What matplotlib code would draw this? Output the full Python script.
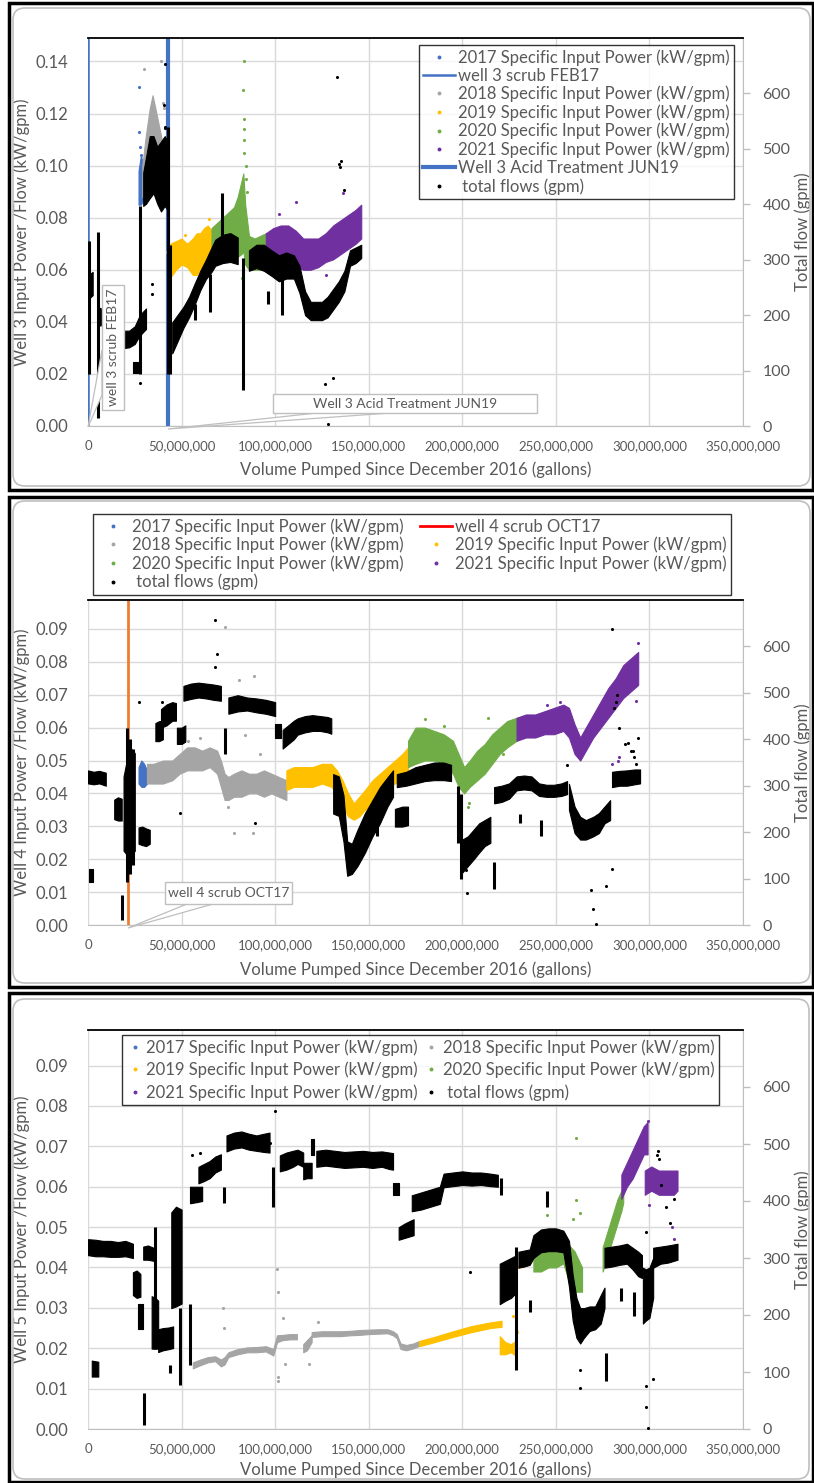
import numpy as np
import matplotlib
matplotlib.use('Agg')
import matplotlib.pyplot as plt
from matplotlib.lines import Line2D
from matplotlib.patches import Rectangle, FancyBboxPatch, Polygon
from matplotlib.ticker import FuncFormatter

plt.rcParams['font.family'] = ['Lato', 'DejaVu Sans']

W, H = 814, 1483
TXT = '#595959'
C17, C18, C19, C20, C21 = '#4472C4', '#A5A5A5', '#FFC000', '#70AD47', '#7030A0'

# ---------- data (x in million gallons; power in kW/gpm; flows in gpm) ----------
# bands = (x, low, high) of the dense point clouds, spikes = (x, low, high), pts = single points

# Well 3
w3_flow_bands = [
    ([0, 1.2, 2.5], [240, 232, 236], [282, 275, 278]),
    ([5, 7, 9, 11], [180, 182, 178, 170], [215, 212, 210, 200]),
    ([14, 18, 22, 25, 27, 29, 31], [145, 140, 142, 148, 160, 168, 175], [175, 172, 172, 180, 195, 205, 212]),
    ([24, 26.5], [95, 95], [115, 115]),
    ([29.5, 31, 33, 35, 37, 39, 41, 43], [397, 401, 411, 420, 401, 387, 397, 387], [457, 485, 523, 523, 504, 513, 523, 509]),
    ([45, 48, 51, 54, 57, 60, 63, 66, 68, 72, 76, 80], [131, 154, 177, 196, 219, 245, 265, 278, 289, 294, 296, 292],
     [187, 201, 215, 233, 257, 280, 300, 322, 336, 345, 348, 340]),
    ([86, 90, 94, 98, 102, 106, 110, 113, 116, 119, 122, 125, 128, 131, 134, 137, 140, 143, 146],
     [280, 285, 280, 271, 261, 266, 266, 240, 200, 191, 191, 191, 196, 210, 224, 243, 289, 294, 303],
     [317, 327, 327, 317, 308, 313, 308, 289, 243, 224, 224, 224, 233, 247, 261, 280, 317, 322, 327]),
]
w3_flow_spike_x = [0.5, 5.5, 28, 42.5, 43.8, 57, 65, 71.5, 83, 96, 103.5]
w3_flow_spike_lo = [93, 14, 93, 93, 93, 192, 205, 317, 65, 220, 200]
w3_flow_spike_hi = [334, 350, 397, 540, 327, 220, 275, 420, 303, 243, 280]
w3_flow_pts_x = [41, 40.7, 41.2, 41.4, 133, 134.2, 135, 134.6, 137, 126.6, 131, 128, 34, 34, 27.8]
w3_flow_pts_y = [653, 580, 537, 540, 630, 472, 478, 467, 425, 75, 86, 4, 257, 238, 77]

w3_2017_bands = [([27, 28.3, 29.5], [0.085, 0.085, 0.087], [0.098, 0.104, 0.100])]
w3_2017_pts_x = [27.4, 27.4, 28, 28.5]
w3_2017_pts_y = [0.130, 0.113, 0.107, 0.104]
w3_2018_bands = [([29, 31, 33, 34.5, 36, 38, 40, 42], [0.088, 0.09, 0.09, 0.09, 0.09, 0.089, 0.088, 0.09],
                  [0.100, 0.112, 0.122, 0.127, 0.122, 0.115, 0.108, 0.100])]
w3_2018_pts_x = [30, 39, 40, 40.5, 42.3, 42.6, 42.6]
w3_2018_pts_y = [0.137, 0.140, 0.124, 0.122, 0.067, 0.055, 0.053]
w3_2019_bands = [([44, 47, 50, 53, 56, 58, 60, 62, 64, 66],
                  [0.057, 0.060, 0.062, 0.061, 0.058, 0.058, 0.060, 0.063, 0.066, 0.066],
                  [0.070, 0.071, 0.072, 0.070, 0.072, 0.074, 0.074, 0.076, 0.077, 0.075])]
w3_2019_pts_x = [64.7, 52]
w3_2019_pts_y = [0.0796, 0.0735]
w3_2020_bands = [([66, 69, 72, 75, 78, 80, 82, 83, 84, 86, 89, 92, 95],
                  [0.064, 0.066, 0.067, 0.068, 0.066, 0.065, 0.066, 0.067, 0.062, 0.060, 0.060, 0.060, 0.062],
                  [0.076, 0.078, 0.080, 0.082, 0.084, 0.088, 0.094, 0.097, 0.085, 0.073, 0.072, 0.073, 0.074])]
w3_2020_pts_x = [83.5, 83, 83.2, 83.2, 83.3, 83.5, 84.2, 84.5, 85, 82.5, 79]
w3_2020_pts_y = [0.140, 0.129, 0.118, 0.114, 0.110, 0.105, 0.100, 0.095, 0.090, 0.057, 0.0796]
w3_2021_bands = [([95, 99, 103, 107, 111, 115, 119, 123, 127, 131, 135, 139, 143, 146],
                  [0.063, 0.062, 0.062, 0.061, 0.061, 0.060, 0.060, 0.061, 0.063, 0.064, 0.066, 0.068, 0.070, 0.072],
                  [0.074, 0.076, 0.077, 0.077, 0.075, 0.072, 0.072, 0.072, 0.074, 0.077, 0.079, 0.081, 0.083, 0.085])]
w3_2021_pts_x = [111, 136, 127, 126, 102, 140, 145]
w3_2021_pts_y = [0.086, 0.0895, 0.058, 0.042, 0.0815, 0.080, 0.083]
w3_scrub_x = 0.0
w3_acid_x = 42.8

# Well 4
w4_flow_bands = [
    ([0, 3, 6, 9.5], [305, 303, 305, 300], [333, 330, 332, 328]),
    ([0.5, 2.5], [92, 92], [120, 120]),
    ([14, 16, 18], [228, 225, 225], [270, 275, 272]),
    ([19, 21, 23, 25], [160, 150, 150, 160], [320, 360, 380, 370]),
    ([27, 29, 31, 33], [175, 172, 170, 175], [210, 212, 208, 205]),
    ([36, 38, 40], [396, 396, 400], [435, 439, 440]),
    ([39, 42, 45, 47], [425, 430, 440, 440], [465, 475, 480, 478]),
    ([47.5, 50, 52], [390, 390, 395], [425, 425, 430]),
    ([51, 55, 59, 63, 67, 71], [483, 487, 490, 488, 485, 483], [515, 520, 522, 520, 518, 515]),
    ([75, 80, 85, 90, 95, 100], [455, 460, 462, 458, 455, 450], [490, 495, 490, 488, 485, 480]),
    ([100, 103], [403, 403], [432, 432]),
    ([104, 107, 110, 112, 116, 120, 124, 128, 130], [380, 390, 400, 410, 415, 418, 418, 415, 412],
     [420, 430, 440, 445, 450, 452, 450, 448, 445]),
    ([131, 134, 136.5, 138.5, 141, 144, 148, 152, 156, 160, 163],
     [240, 235, 180, 106, 110, 127, 156, 191, 219, 255, 276],
     [325, 320, 280, 180, 175, 205, 241, 269, 297, 318, 333]),
    ([164, 168, 171], [212, 212, 215], [250, 255, 255]),
    ([165, 170, 175, 180, 185, 190, 194], [297, 300, 305, 310, 312, 312, 310], [325, 330, 340, 345, 350, 350, 345]),
    ([200, 203, 206, 209, 212, 215], [113, 127, 141, 156, 170, 177], [184, 191, 205, 219, 226, 233]),
    ([217, 221, 225, 229, 233, 237, 241, 245, 249, 253, 256],
     [262, 265, 272, 290, 292, 290, 278, 276, 276, 278, 282],
     [297, 300, 305, 320, 322, 320, 305, 302, 302, 305, 310]),
    ([257, 260, 263, 266, 270, 273, 276, 279], [248, 198, 184, 184, 191, 198, 219, 226],
     [304, 255, 233, 226, 233, 241, 255, 269]),
    ([280, 284, 288, 292, 295], [297, 300, 300, 303, 305], [330, 332, 333, 335, 335]),
]
w4_flow_spike_x = [18, 21, 22.5, 24, 73, 154.5, 197.5, 199.5, 217, 231, 242]
w4_flow_spike_lo = [11, 92, 110, 130, 368, 191, 177, 99, 78, 220, 191]
w4_flow_spike_hi = [64, 425, 400, 380, 424, 233, 300, 283, 135, 240, 226]
w4_flow_pts_x = [67.8, 69, 68, 27, 39.7, 280, 282, 282.5, 281, 284, 287, 294, 288.5, 290, 291, 292, 293,
                 280, 270, 271.5, 269, 277, 202, 202.3, 256, 49, 89]
w4_flow_pts_y = [658, 583, 556, 481, 481, 637, 481, 495, 467, 425, 389, 403, 391, 375, 375, 361, 347,
                 120, 35, 2, 75, 85, 118, 69, 344, 241, 220]

w4_2017_bands = [([27, 28.5, 30, 31.5], [0.043, 0.042, 0.042, 0.043], [0.048, 0.050, 0.049, 0.047])]
w4_2018_bands = [([31.5, 35, 40, 45, 49, 53, 57, 61, 65, 69, 71, 73, 75, 78, 82, 86, 90, 94, 98, 102, 106],
                  [0.043, 0.043, 0.043, 0.044, 0.046, 0.047, 0.047, 0.047, 0.048, 0.046, 0.042, 0.038, 0.038,
                   0.039, 0.039, 0.040, 0.040, 0.039, 0.040, 0.039, 0.038],
                  [0.049, 0.049, 0.050, 0.050, 0.052, 0.054, 0.054, 0.053, 0.054, 0.053, 0.050, 0.046, 0.045,
                   0.046, 0.047, 0.046, 0.046, 0.047, 0.046, 0.045, 0.044])]
w4_2018_pts_x = [73, 80.7, 88.7, 84, 53.5, 78, 88, 75, 60, 92]
w4_2018_pts_y = [0.0906, 0.0745, 0.0757, 0.0577, 0.056, 0.028, 0.028, 0.036, 0.057, 0.052]
w4_2019_bands = [([106, 110, 115, 120, 125, 130, 133, 136, 139, 142, 145, 148, 152, 156, 160, 164, 168, 171],
                  [0.041, 0.042, 0.042, 0.042, 0.043, 0.042, 0.040, 0.036, 0.033, 0.032, 0.033, 0.035, 0.037,
                   0.040, 0.042, 0.043, 0.045, 0.047],
                  [0.047, 0.048, 0.048, 0.048, 0.049, 0.049, 0.047, 0.044, 0.040, 0.037, 0.039, 0.041, 0.044,
                   0.046, 0.048, 0.050, 0.052, 0.054])]
w4_2020_bands = [([171, 175, 180, 185, 190, 195, 198, 201, 204, 208, 212, 216, 220, 224, 229],
                  [0.048, 0.049, 0.050, 0.050, 0.049, 0.046, 0.042, 0.040, 0.042, 0.044, 0.046, 0.049, 0.052, 0.054, 0.056],
                  [0.056, 0.060, 0.060, 0.059, 0.058, 0.056, 0.052, 0.048, 0.050, 0.053, 0.055, 0.058, 0.060, 0.062, 0.063])]
w4_2020_pts_x = [203.6, 203, 180, 190, 214, 222]
w4_2020_pts_y = [0.037, 0.036, 0.0625, 0.0605, 0.063, 0.052]
w4_2021_bands = [([229, 234, 239, 244, 249, 254, 257, 260, 263, 266, 270, 274, 278, 282, 286, 290, 294],
                  [0.056, 0.057, 0.057, 0.058, 0.058, 0.059, 0.057, 0.052, 0.050, 0.053, 0.057, 0.060, 0.063,
                   0.066, 0.069, 0.071, 0.073],
                  [0.063, 0.064, 0.064, 0.065, 0.066, 0.067, 0.066, 0.061, 0.057, 0.060, 0.064, 0.068, 0.072,
                   0.075, 0.079, 0.081, 0.083])]
w4_2021_pts_x = [294, 252, 280, 283, 283.5, 287, 293, 245]
w4_2021_pts_y = [0.0857, 0.0677, 0.049, 0.050, 0.051, 0.0714, 0.068, 0.067]
w4_scrub_x = 21.5

# Well 5
w5_flow_bands = [
    ([0, 4, 8, 12, 16, 20, 24], [305, 303, 303, 302, 302, 303, 300], [333, 332, 330, 330, 328, 330, 325]),
    ([2, 5.5], [92, 92], [120, 118]),
    ([24, 26, 28], [235, 230, 232], [275, 278, 272]),
    ([26.5, 29.5], [176, 176], [219, 219]),
    ([29.5, 32, 35], [297, 297, 295], [320, 322, 318]),
    ([34, 36, 37.5], [141, 141, 141], [233, 230, 225]),
    ([37.5, 40, 43, 45.5], [135, 138, 140, 142], [175, 177, 178, 180]),
    ([44.5, 47, 50], [212, 215, 220], [380, 390, 385]),
    ([54.5, 58, 61], [396, 398, 400], [425, 425, 425]),
    ([59, 62, 65, 68, 71], [431, 435, 440, 450, 455], [460, 465, 470, 478, 482]),
    ([74, 78, 82, 86, 90, 94, 97], [487, 492, 494, 490, 488, 486, 485], [515, 520, 522, 518, 515, 518, 520]),
    ([102.5, 106, 109.5, 112, 115], [452, 455, 460, 465, 460], [480, 485, 488, 490, 485]),
    ([115, 117, 119.5], [438, 440, 440], [467, 467, 467]),
    ([119, 121], [481, 481], [509, 509]),
    ([122, 127, 132, 137, 142, 147, 152, 157, 161, 163], [460, 462, 460, 458, 459, 460, 458, 460, 456, 455],
     [488, 490, 488, 486, 487, 488, 486, 487, 485, 484]),
    ([163, 166], [410, 410], [431, 431]),
    ([166, 169, 172, 174], [332, 335, 338, 340], [354, 360, 365, 368]),
    ([173, 178, 183, 188, 190, 195, 200, 205, 210, 215, 219], [382, 385, 390, 395, 424, 426, 428, 427, 428, 426, 425],
     [410, 415, 420, 425, 448, 450, 452, 450, 450, 448, 446]),
    ([220, 223, 226, 229], [219, 225, 230, 240], [290, 295, 300, 305]),
    ([230, 233, 236, 238, 242, 246, 250, 254, 257, 259, 261, 263, 265, 268, 271, 274, 276],
     [283, 285, 288, 300, 310, 312, 312, 310, 250, 190, 160, 150, 160, 172, 175, 185, 212],
     [311, 313, 315, 340, 350, 352, 352, 348, 330, 270, 230, 212, 212, 215, 215, 235, 248]),
    ([276, 280, 284, 288, 291, 294, 296], [283, 285, 288, 290, 280, 268, 265], [318, 320, 322, 325, 318, 311, 305]),
    ([296.5, 298, 300, 302], [185, 190, 195, 230], [283, 280, 283, 300]),
    ([302, 306, 310, 315], [283, 290, 292, 297], [318, 320, 322, 325]),
]
w5_flow_spike_x = [30, 36, 49, 54.5, 44, 99, 220.5, 228.5, 236, 245, 277, 285, 292, 72.5]
w5_flow_spike_lo = [7, 141, 78, 113, 99, 389, 410, 103, 205, 389, 85, 225, 198, 396]
w5_flow_spike_hi = [64, 354, 212, 219, 113, 460, 440, 320, 226, 417, 134, 248, 240, 425]
w5_flow_pts_x = [298, 298.3, 299, 302, 263, 263, 204, 304, 304.5, 305, 306, 309, 311, 313, 298, 100, 55.5, 60, 97.5]
w5_flow_pts_y = [76, 38, 2, 88, 72, 103, 276, 481, 488, 474, 428, 389, 361, 403, 346, 558, 481, 484, 502]

w5_2018_bands = [
    ([56, 60, 64, 68, 71, 73, 75, 80, 85, 90, 95, 99, 101, 104, 108, 111.6],
     [0.0150, 0.0158, 0.0165, 0.0168, 0.0155, 0.0160, 0.0178, 0.0185, 0.0190, 0.0190, 0.0192, 0.0182,
      0.0215, 0.0220, 0.0222, 0.0222],
     [0.0165, 0.0172, 0.0178, 0.0180, 0.0172, 0.0178, 0.0190, 0.0198, 0.0202, 0.0203, 0.0205, 0.0198,
      0.0232, 0.0233, 0.0235, 0.0235]),
    ([115, 117, 119.5], [0.019, 0.0195, 0.0215], [0.021, 0.022, 0.0232]),
    ([119.5, 125, 130, 135, 140, 145, 150, 155, 160, 163, 165, 167, 170, 174, 177],
     [0.0228, 0.0230, 0.0230, 0.0230, 0.0232, 0.0233, 0.0235, 0.0236, 0.0237, 0.0232, 0.0225, 0.0198,
      0.0195, 0.0200, 0.0206],
     [0.0240, 0.0242, 0.0242, 0.0242, 0.0243, 0.0245, 0.0246, 0.0247, 0.0247, 0.0242, 0.0235, 0.0212,
      0.0208, 0.0212, 0.0218]),
]
w5_2018_pts_x = [101, 101.5, 104, 101.3, 101.3, 123, 72, 72.5, 118, 105]
w5_2018_pts_y = [0.0397, 0.034, 0.0275, 0.0129, 0.012, 0.0265, 0.030, 0.025, 0.016, 0.016]
w5_2019_bands = [([177, 185, 195, 205, 215, 221], [0.0205, 0.0215, 0.0228, 0.0240, 0.0250, 0.0253],
                  [0.0218, 0.0228, 0.0242, 0.0255, 0.0264, 0.0268]),
                 ([220, 223, 226, 229], [0.0185, 0.0185, 0.019, 0.018], [0.023, 0.0215, 0.021, 0.022])]
w5_2019_pts_x = [227, 226, 228, 230, 232, 234, 229.5]
w5_2019_pts_y = [0.028, 0.037, 0.0395, 0.040, 0.041, 0.042, 0.024]
w5_2020_bands = [([238, 242, 246, 250, 254, 256, 258, 260, 262, 264],
                  [0.039, 0.039, 0.040, 0.040, 0.041, 0.038, 0.035, 0.034, 0.034, 0.034],
                  [0.044, 0.044, 0.045, 0.045, 0.046, 0.046, 0.045, 0.044, 0.042, 0.040]),
                 ([275, 277, 279, 281, 283, 285, 286], [0.039, 0.042, 0.045, 0.048, 0.051, 0.054, 0.056],
                  [0.045, 0.048, 0.051, 0.054, 0.057, 0.059, 0.060])]
w5_2020_pts_x = [260.6, 260.6, 263, 259, 245, 245.5]
w5_2020_pts_y = [0.072, 0.0566, 0.0536, 0.052, 0.053, 0.057]
w5_2021_bands = [([285, 288, 291, 294, 297, 299], [0.057, 0.060, 0.062, 0.065, 0.068, 0.068],
                  [0.063, 0.066, 0.069, 0.072, 0.075, 0.076]),
                 ([297.5, 301, 305, 309, 313, 315], [0.058, 0.059, 0.058, 0.058, 0.058, 0.059],
                  [0.064, 0.065, 0.064, 0.064, 0.064, 0.064])]
w5_2021_pts_x = [299, 300, 312, 313, 314]
w5_2021_pts_y = [0.0763, 0.0555, 0.050, 0.047, 0.045]

LBL_SIP = 'Specific Input Power (kW/gpm)'
XLABEL = 'Volume Pumped Since December 2016 (gallons)'


def bands(ax, data, color, z=2):
    for xs, lo, hi in data:
        ax.fill_between(np.array(xs) * 1e6, lo, hi, color=color, lw=0.8, edgecolor=color, zorder=z)


def spikes(ax, xs, lo, hi, color, lw=2.2, z=2):
    ax.vlines(np.array(xs) * 1e6, lo, hi, color=color, lw=lw, zorder=z)


def pts(ax, xs, ys, color, z=3):
    ax.scatter(np.array(xs) * 1e6, ys, s=5, color=color, lw=0, zorder=z)


def dot(color, label):
    return Line2D([], [], marker='o', ls='', ms=1.8, color=color, label=label)


def make_axes(fig, top, bottom, ymax, yticks, ylabel, xlab_y):
    ax = fig.add_axes([88 / W, 1 - bottom / H, 655 / W, (bottom - top) / H])
    ax2 = ax.twinx()
    ax.set_xlim(0, 350e6)
    ax.set_ylim(0, ymax)
    ax2.set_ylim(0, 700)
    ax.set_xticks(np.arange(0, 351e6, 50e6))
    ax.xaxis.set_major_formatter(FuncFormatter(lambda v, p: f'{int(round(v)):,}'))
    ax.set_yticks(yticks)
    ax.yaxis.set_major_formatter(FuncFormatter(lambda v, p: f'{v:.2f}'))
    ax2.set_yticks(np.arange(0, 601, 100))
    ax.grid(True, color='#D9D9D9', lw=1)
    ax.set_axisbelow(True)
    for a in (ax, ax2):
        for s in a.spines.values():
            s.set_visible(False)
    ax2.spines['top'].set_visible(True)
    ax2.spines['top'].set_color('black')
    ax2.spines['top'].set_linewidth(1.3)
    ax2.spines['right'].set_visible(True)
    ax2.spines['right'].set_color('#BFBFBF')
    ax.spines['bottom'].set_visible(True)
    ax.spines['bottom'].set_color('#BFBFBF')
    ax.tick_params(axis='x', length=0, pad=10, labelsize=9.5, colors=TXT)
    ax.tick_params(axis='y', length=0, pad=14, labelsize=12, colors=TXT)
    ax2.tick_params(axis='y', length=5, width=1, color='#BFBFBF', pad=9, labelsize=11.5, labelcolor=TXT)
    ax.set_ylabel(ylabel, fontsize=12, color=TXT)
    ax.yaxis.set_label_coords(-66 / 655, 0.5)
    ax.yaxis.label.set_va('center')
    ax2.set_ylabel('Total flow (gpm)', fontsize=12, color=TXT)
    ax2.yaxis.set_label_coords(1 + 60 / 655, 0.5)
    ax2.yaxis.label.set_va('center')
    ax.set_xlabel(XLABEL, fontsize=12, color=TXT)
    ax.xaxis.set_label_coords(0.5, (bottom - xlab_y) / (bottom - top))
    ax.xaxis.label.set_va('center')
    return ax, ax2


def callout(ax, text, rect_px, top, bottom, base, tip, rot=0):
    # rect_px: (x0, y0, x1, y1) in figure pixels; converted to axes fraction
    hh = bottom - top
    fx = lambda x: (x - 88) / 655
    fy = lambda y: (bottom - y) / hh
    x0, y0, x1, y1 = rect_px
    ax.add_patch(Polygon([(fx(base[0][0]), fy(base[0][1])), (fx(base[1][0]), fy(base[1][1])),
                          (fx(tip[0]), fy(tip[1]))], closed=True, transform=ax.transAxes,
                         fc='white', ec='#BFBFBF', lw=0.9, zorder=6, clip_on=False))
    ax.add_patch(Rectangle((fx(x0), fy(y1)), fx(x1) - fx(x0), fy(y0) - fy(y1), transform=ax.transAxes,
                           fc='white', ec='#BFBFBF', lw=1.0, zorder=7, clip_on=False))
    ax.text(fx((x0 + x1) / 2), fy((y0 + y1) / 2), text, transform=ax.transAxes, rotation=rot,
            ha='center', va='center', fontsize=10, color=TXT, zorder=8)


def frame(fig, y0, y1, inner):
    fig.patches.append(Rectangle((9 / W, 1 - y1 / H), 804 / W, (y1 - y0) / H, transform=fig.transFigure,
                                 fill=False, ec='black', lw=2.5))
    x0i, y0i, x1i, y1i = inner
    r = 12
    fig.patches.append(FancyBboxPatch((x0i / W, 1 - y1i / H), (x1i - x0i) / W, (y1i - y0i) / H,
                                      boxstyle=f'round,pad=0,rounding_size={r / W}', mutation_aspect=W / H,
                                      transform=fig.transFigure, fill=False, ec='#BFBFBF', lw=1.2))


def style_legend(leg):
    leg.get_frame().set_edgecolor('black')
    leg.get_frame().set_linewidth(1.0)
    for t in leg.get_texts():
        t.set_color(TXT)
    leg.set_zorder(10)


fig = plt.figure(figsize=(W / 100, H / 100), dpi=100)
frame(fig, 3, 490, (13, 8, 810, 486))
frame(fig, 497, 987, (13, 501, 810, 983))
frame(fig, 993, 1482, (13, 999, 809, 1479))

# ---------- Well 3 ----------
ax, ax2 = make_axes(fig, 38, 426, 0.149, np.arange(0, 0.141, 0.02),
                    'Well 3 Input Power /Flow (kW/gpm)', 470)
ax.axvline(w3_scrub_x * 1e6, color=C17, lw=1.8, zorder=1.5)
ax.axvline(w3_acid_x * 1e6, color=C17, lw=3.0, zorder=1.5)
for b, px, py, c in [(w3_2017_bands, w3_2017_pts_x, w3_2017_pts_y, C17),
                     (w3_2018_bands, w3_2018_pts_x, w3_2018_pts_y, C18),
                     (w3_2019_bands, w3_2019_pts_x, w3_2019_pts_y, C19),
                     (w3_2020_bands, w3_2020_pts_x, w3_2020_pts_y, C20),
                     (w3_2021_bands, w3_2021_pts_x, w3_2021_pts_y, C21)]:
    bands(ax, b, c)
    pts(ax, px, py, c)
bands(ax2, w3_flow_bands, 'black')
spikes(ax2, w3_flow_spike_x, w3_flow_spike_lo, w3_flow_spike_hi, 'black')
pts(ax2, w3_flow_pts_x, w3_flow_pts_y, 'black')
callout(ax2, 'well 3 scrub FEB17', (102, 285, 124, 410), 38, 426,
        [(102, 350), (102, 395)], (88, 427), rot=90)
callout(ax2, 'Well 3 Acid Treatment JUN19', (273, 394, 537, 413), 38, 426,
        [(317, 413), (390, 413)], (168, 429))
h = [dot(C17, '2017 ' + LBL_SIP), Line2D([], [], color=C17, lw=1.8, label='well 3 scrub FEB17'),
     dot(C18, '2018 ' + LBL_SIP), dot(C19, '2019 ' + LBL_SIP), dot(C20, '2020 ' + LBL_SIP),
     dot(C21, '2021 ' + LBL_SIP), Line2D([], [], color=C17, lw=3.0, label='Well 3 Acid Treatment JUN19'),
     dot('black', ' total flows (gpm)')]
leg = ax2.legend(handles=h, loc='upper right', bbox_to_anchor=((734 - 88) / 655, 1 - 7 / 388),
                 fontsize=12, frameon=True, fancybox=False, borderaxespad=0, handlelength=1.9,
                 handletextpad=0.2, labelspacing=0.12, borderpad=0.25)
style_legend(leg)

# ---------- Well 4 ----------
ax, ax2 = make_axes(fig, 600, 925, 0.0988, np.arange(0, 0.091, 0.01),
                    'Well 4 Input Power /Flow (kW/gpm)', 970)
ax.axvline(w4_scrub_x * 1e6, color='#ED7D31', lw=2.0, zorder=1.5)
bands(ax, w4_2017_bands, C17)
bands(ax, w4_2018_bands, C18)
pts(ax, w4_2018_pts_x, w4_2018_pts_y, C18)
bands(ax, w4_2019_bands, C19)
bands(ax, w4_2020_bands, C20)
pts(ax, w4_2020_pts_x, w4_2020_pts_y, C20)
bands(ax, w4_2021_bands, C21)
pts(ax, w4_2021_pts_x, w4_2021_pts_y, C21)
bands(ax2, w4_flow_bands, 'black')
spikes(ax2, w4_flow_spike_x, w4_flow_spike_lo, w4_flow_spike_hi, 'black')
pts(ax2, w4_flow_pts_x, w4_flow_pts_y, 'black')
callout(ax2, 'well 4 scrub OCT17', (165, 882, 292, 904), 600, 925,
        [(187, 904), (213, 904)], (128, 928))
h = [dot(C17, '2017 ' + LBL_SIP), dot(C18, '2018 ' + LBL_SIP), dot(C20, '2020 ' + LBL_SIP),
     dot('black', ' total flows (gpm)'), Line2D([], [], color='red', lw=2.0, label='well 4 scrub OCT17'),
     dot(C19, '2019 ' + LBL_SIP), dot(C21, '2021 ' + LBL_SIP)]
leg = ax2.legend(handles=h, loc='upper left', bbox_to_anchor=(5 / 655, 1 + 86 / 325), ncol=2,
                 fontsize=12, frameon=True, fancybox=False, borderaxespad=0, handlelength=1.9,
                 handletextpad=0.2, labelspacing=0.12, borderpad=0.25, columnspacing=1.0)
style_legend(leg)

# ---------- Well 5 ----------
ax, ax2 = make_axes(fig, 1030, 1429, 0.0988, np.arange(0, 0.091, 0.01),
                    'Well 5 Input Power /Flow (kW/gpm)', 1470)
bands(ax, w5_2018_bands, C18)
pts(ax, w5_2018_pts_x, w5_2018_pts_y, C18)
bands(ax, w5_2019_bands, C19)
pts(ax, w5_2019_pts_x, w5_2019_pts_y, C19)
bands(ax, w5_2020_bands, C20)
pts(ax, w5_2020_pts_x, w5_2020_pts_y, C20)
bands(ax, w5_2021_bands, C21)
pts(ax, w5_2021_pts_x, w5_2021_pts_y, C21)
bands(ax2, w5_flow_bands, 'black')
spikes(ax2, w5_flow_spike_x, w5_flow_spike_lo, w5_flow_spike_hi, 'black')
pts(ax2, w5_flow_pts_x, w5_flow_pts_y, 'black')
h = [dot(C17, '2017 ' + LBL_SIP), dot(C19, '2019 ' + LBL_SIP), dot(C21, '2021 ' + LBL_SIP),
     dot(C18, '2018 ' + LBL_SIP), dot(C20, '2020 ' + LBL_SIP), dot('black', ' total flows (gpm)')]
leg = ax2.legend(handles=h, loc='upper left', bbox_to_anchor=(34 / 655, 1 - 5 / 399), ncol=2,
                 fontsize=12, frameon=True, fancybox=False, borderaxespad=0, handlelength=1.0,
                 handletextpad=0.2, labelspacing=0.35, borderpad=0.25, columnspacing=0.3)
style_legend(leg)

fig.savefig('out.png', dpi=100)
